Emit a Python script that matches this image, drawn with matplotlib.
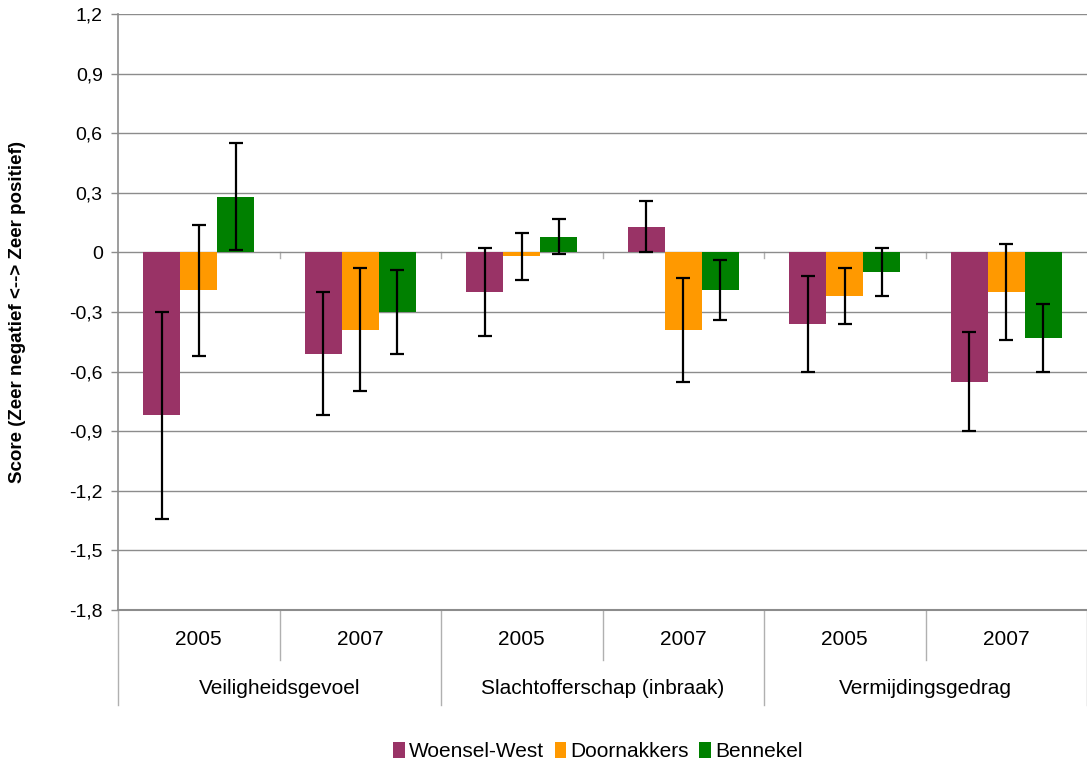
import numpy as np
import matplotlib
matplotlib.use('Agg')
import matplotlib.pyplot as plt
from matplotlib.patches import Patch

plt.rcParams['font.family'] = ['Liberation Sans', 'DejaVu Sans']

groups = ['Veiligheidsgevoel', 'Slachtofferschap (inbraak)', 'Vermijdingsgedrag']
years = ['2005', '2007']
series = ['Woensel-West', 'Doornakkers', 'Bennekel']
colors = ['#993366', '#FF9900', '#008000']

# one value per group/year, in order VG05, VG07, SL05, SL07, VM05, VM07
woensel = [-0.82, -0.51, -0.20, 0.13, -0.36, -0.65]
doornakkers = [-0.19, -0.39, -0.02, -0.39, -0.22, -0.20]
bennekel = [0.28, -0.30, 0.08, -0.19, -0.10, -0.43]

woensel_err = [0.52, 0.31, 0.22, 0.13, 0.24, 0.25]
doornakkers_err = [0.33, 0.31, 0.12, 0.26, 0.14, 0.24]
bennekel_err = [0.27, 0.21, 0.09, 0.15, 0.12, 0.17]

yticks = [1.2, 0.9, 0.6, 0.3, 0, -0.3, -0.6, -0.9, -1.2, -1.5, -1.8]

values = [woensel, doornakkers, bennekel]
errors = [woensel_err, doornakkers_err, bennekel_err]

fig = plt.figure(figsize=(10.87, 7.67), dpi=100)
ax = fig.add_axes([118 / 1087, 1 - 610 / 767, 1 - 118 / 1087, (610 - 14) / 767])

n = len(woensel)
x = np.arange(n)
w = 0.229
for i, (vals, errs) in enumerate(zip(values, errors)):
    ax.bar(x + (i - 1) * w, vals, width=w, color=colors[i], label=series[i], zorder=2)
    ax.errorbar(x + (i - 1) * w, vals, yerr=errs, fmt='none', ecolor='black',
                elinewidth=1.6, capsize=5, capthick=1.6, zorder=3)

ax.set_xlim(-0.5, n - 0.5)
ax.set_ylim(-1.8, 1.2)
ax.set_yticks(yticks)
ax.set_yticklabels(['0' if v == 0 else f'{v:.1f}'.replace('.', ',') for v in yticks], fontsize=14)
ax.yaxis.grid(True, color='#8c8c8c', linewidth=1, zorder=0)
ax.set_xticks([])
ax.tick_params(axis='y', length=5, color='#8c8c8c', width=1, pad=6)
for side in ['top', 'right']:
    ax.spines[side].set_visible(False)
ax.spines['left'].set_color('#8c8c8c')
ax.spines['bottom'].set_color('#8c8c8c')
ax.spines['left'].set_linewidth(1.2)
ax.spines['bottom'].set_linewidth(1.5)

# small category ticks on the zero line
for b in np.arange(0.5, n - 0.5, 1.0):
    ax.plot([b, b], [0, -0.03], color='#b0b0b0', linewidth=1, zorder=1)

# multi-level category labels below the axis
trans = ax.get_xaxis_transform()
for i in range(n):
    ax.text(x[i], -0.05, years[i % 2], transform=trans, ha='center', va='center', fontsize=15)
for b in np.arange(-0.5, n, 1.0):
    bottom = -0.159 if int(round(b + 0.5)) % 2 == 0 else -0.084
    ax.plot([b, b], [0, bottom], transform=trans, color='#b0b0b0', linewidth=1, clip_on=False)
for g, name in enumerate(groups):
    ax.text(2 * g + 0.5, -0.131, name, transform=trans, ha='center', va='center', fontsize=15)

fig.text(18 / 1087, 1 - 312 / 767, 'Score (Zeer negatief <--> Zeer positief)', rotation=90,
         ha='center', va='center', fontsize=13.5, fontweight='bold')

handles = [Patch(facecolor=c, label=s) for c, s in zip(colors, series)]
fig.legend(handles=handles, loc='center', bbox_to_anchor=(0.55, 0.02), ncol=3, frameon=False,
           fontsize=15, handlelength=0.55, handleheight=0.75, handletextpad=0.2, columnspacing=0.5)

fig.savefig('out.png', dpi=100)
